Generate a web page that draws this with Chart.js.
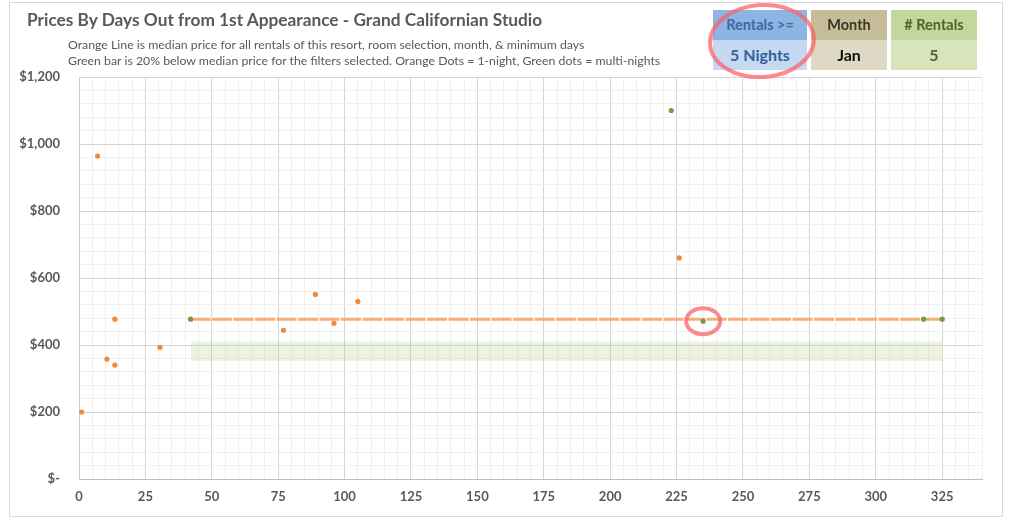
<!DOCTYPE html>
<html><head><meta charset="utf-8">
<script src="https://cdn.jsdelivr.net/npm/chart.js@4"></script>
<style>
html,body{margin:0;padding:0;background:#fff;width:1012px;height:526px;overflow:hidden;font-family:Lato,"Open Sans",sans-serif;}
#frame{position:absolute;left:9px;top:2px;width:992px;height:513px;border:1px solid #D9D9D9;}
#wrap{position:absolute;left:0;top:0;width:1012px;height:526px;}
#title{position:absolute;left:27px;top:9px;font-size:17.3px;font-weight:bold;color:#595959;white-space:nowrap;}
.sub{position:absolute;left:68px;font-size:12.3px;color:#595959;white-space:nowrap;}
.box{position:absolute;text-align:center;font-weight:bold;}
.hd{height:30px;line-height:30px;font-size:14.5px;}
.vl{height:30px;line-height:30px;font-size:16px;}
svg{position:absolute;left:0;top:0;pointer-events:none;}
</style></head>
<body>
<div id="frame"></div>
<div id="wrap"><canvas id="c" width="1012" height="526"></canvas></div>
<div id="title">Prices By Days Out from 1st Appearance - Grand Californian Studio</div>
<div class="sub" style="top:37px">Orange Line is median price for all rentals of this resort, room selection, month, &amp; minimum days</div>
<div class="sub" style="top:53px">Green bar is 20% below median price for the filters selected. Orange Dots = 1-night, Green dots = multi-nights</div>
<div class="box" style="left:713px;top:10px;width:94px;">
  <div class="hd" style="background:#8DB4E2;color:#3F6AA3">Rentals &gt;=</div>
  <div class="vl" style="background:#C5D9F1;color:#36609A">5 Nights</div>
</div>
<div class="box" style="left:811px;top:10px;width:76px;">
  <div class="hd" style="background:#C4BD97;color:#3A3524">Month</div>
  <div class="vl" style="background:#DDD9C4;color:#111">Jan</div>
</div>
<div class="box" style="left:891px;top:10px;width:86px;">
  <div class="hd" style="background:#C3D69B;color:#4F6228"># Rentals</div>
  <div class="vl" style="background:#D8E4BC;color:#4F6228">5</div>
</div>
<svg width="1012" height="526"><ellipse cx="762" cy="41" rx="52" ry="36" fill="none" stroke="rgba(250,100,105,0.75)" stroke-width="4" transform="rotate(-4 762 41)"/></svg>
<script>
// ---- data ----
const oneNightDays   = [1, 7, 10.5, 13.5, 13.5, 30.5, 77, 89, 96, 105, 226];
const oneNightPrices = [200, 964, 358, 477, 340, 393, 444, 551, 465, 530, 660];
const multiNightDays   = [42, 223, 235, 318, 325];
const multiNightPrices = [477, 1100, 471, 477, 477];
const medianDays  = [42, 325];
const medianPrice = [477, 477];
const bandDays = [42, 325];
const bandLow  = [352, 352];
const bandHigh = [410, 410];
const circledDay = 235, circledPrice = 471;
const xTickLabels = [0,25,50,75,100,125,150,175,200,225,250,275,300,325];
const yTickLabels = {0:'$-',200:'$200',400:'$400',600:'$600',800:'$800',1000:'$1,000',1200:'$1,200'};

const pts = (xs, ys) => xs.map((x,i)=>({x, y: ys[i]}));

const circlePlugin = {
  id:'circle',
  afterDraw(chart){
    const {ctx, scales:{x,y}} = chart;
    ctx.save();
    ctx.strokeStyle='rgba(250,100,105,0.75)';
    ctx.lineWidth=4;
    ctx.beginPath();
    ctx.ellipse(x.getPixelForValue(circledDay), y.getPixelForValue(circledPrice), 17, 13, 0, 0, Math.PI*2);
    ctx.stroke();
    ctx.restore();
  }
};

new Chart(document.getElementById('c'), {
  type:'scatter',
  data:{datasets:[
    {label:'bandLow', data:pts(bandDays,bandLow), showLine:true, borderWidth:0, pointRadius:0, borderColor:'rgba(0,0,0,0)', fill:false, order:6},
    {label:'bandHigh', data:pts(bandDays,bandHigh), showLine:true, borderWidth:0, pointRadius:0, borderColor:'rgba(0,0,0,0)', backgroundColor:'rgba(169,200,120,0.22)', fill:'-1', order:5},
    {label:'median', data:pts(medianDays,medianPrice), showLine:true, borderColor:'#F4AE7C', borderWidth:3, borderDash:[20,1.5], pointRadius:0, order:4},
    {label:'1-night', data:pts(oneNightDays,oneNightPrices), pointRadius:2.6, pointBackgroundColor:'#EE8A3C', pointBorderWidth:0, order:1},
    {label:'multi', data:pts(multiNightDays,multiNightPrices), pointRadius:2.6, pointBackgroundColor:'#789B48', pointBorderWidth:0, order:0}
  ]},
  options:{
    responsive:false, animation:false,
    layout:{padding:{left:10,right:30,top:77,bottom:12}},
    plugins:{legend:{display:false},tooltip:{enabled:false}},
    scales:{
      x:{type:'linear',min:0,max:340,
        afterFit(s){s.height=35;},
        border:{display:true,color:'#BFBFBF',width:1},
        grid:{drawTicks:false,color:c=>c.tick.value%25===0?'#D6D6D6':'#F0F0F0'},
        ticks:{stepSize:5,autoSkip:false,maxRotation:0,padding:10,color:'#595959',font:{family:'Lato',size:13,weight:'bold'},
          callback:v=>xTickLabels.includes(v)?String(v):''}},
      y:{type:'linear',min:0,max:1200,
        afterFit(s){s.width=69;},
        border:{display:true,color:'#D0D0D0',width:1},
        grid:{drawTicks:false,color:c=>c.tick.value%200===0?'#D6D6D6':'#F0F0F0'},
        ticks:{stepSize:40,autoSkip:false,padding:19,color:'#595959',font:{family:'Lato',size:13,weight:'bold'},
          callback:v=>yTickLabels[v]!==undefined?yTickLabels[v]:''}}
    }
  },
  plugins:[circlePlugin]
});
</script>
</body></html>
